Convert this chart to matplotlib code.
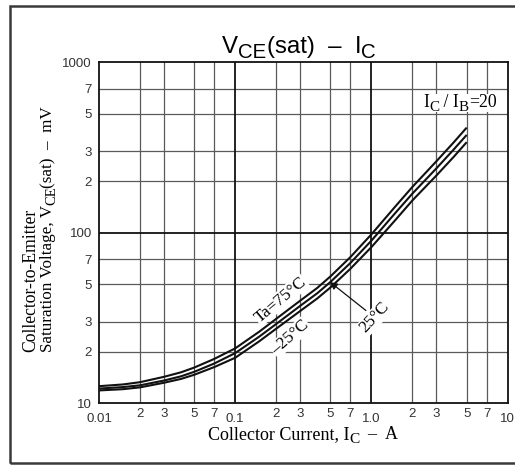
import numpy as np
import matplotlib
matplotlib.use('Agg')
import matplotlib.pyplot as plt
from matplotlib.patches import Rectangle
from matplotlib.ticker import FixedLocator
from matplotlib.transforms import IdentityTransform

# Data (Ic in A, VCE(sat) in mV)
ic = [0.01, 0.015, 0.02, 0.03, 0.04, 0.05, 0.07, 0.1, 0.15, 0.2, 0.3, 0.4, 0.5, 0.7,
      1.0, 1.5, 2.0, 3.0, 4.0, 5.0]
v_75 = [12.6, 12.9, 13.3, 14.3, 15.2, 16.2, 18.2, 21.0, 26.3, 31.3, 40.0, 47.5, 55.5, 72.0,
        98, 143, 186, 263, 338, 414]
v_25 = [12.2, 12.45, 12.75, 13.6, 14.4, 15.3, 17.1, 19.7, 24.6, 29.2, 37.3, 44.2, 51.5, 66.5,
        90, 131, 170, 239, 307, 375]
v_m25 = [11.9, 12.1, 12.4, 13.2, 13.9, 14.7, 16.3, 18.5, 23.1, 27.4, 34.8, 41.2, 47.8, 61.5,
         82.5, 119, 155, 217, 278, 340]

x_major = [0.01, 0.1, 1.0, 10]
x_major_labels = ['0.01', '0.1', '1.0', '10']
x_minor = [0.02, 0.03, 0.05, 0.07, 0.2, 0.3, 0.5, 0.7, 2, 3, 5, 7]
x_minor_labels = ['2', '3', '5', '7'] * 3
y_major = [10, 100, 1000]
y_major_labels = ['10', '100', '1000']
y_minor = [20, 30, 50, 70, 200, 300, 500, 700]
y_minor_labels = ['2', '3', '5', '7'] * 2

sans = ['Liberation Sans', 'DejaVu Sans']
serif = ['Liberation Serif', 'DejaVu Serif']

W, H = 515, 466
fig = plt.figure(figsize=(W / 100, H / 100), dpi=100)
ax = fig.add_axes([99 / W, 1 - 403.3 / H, 408.7 / W, 341 / H])
renderer = fig.canvas.get_renderer()


def runs(x, y, parts, size, family, rotation=0, ha='center', box=False):
    # write text pieces one after another; x, y in pixels from top-left, y = baseline
    # parts: strings, (string, scale, shift_em) for subscripts, or a float gap in em
    em = size / 72 * fig.dpi
    items = []
    for p in parts:
        if isinstance(p, float):
            items.append((None, p * em, 0))
            continue
        s, scale, shift = (p, 1.0, 0.0) if isinstance(p, str) else p
        t = fig.text(0, 0, s, fontsize=size * scale, family=family, transform=IdentityTransform(),
                     ha='left', va='baseline', zorder=5)
        items.append((t, t.get_window_extent(renderer).width, shift))
    total = sum(w for _, w, _ in items)
    pos = -total / 2 if ha == 'center' else 0
    if box:
        fig.patches.append(Rectangle((x + pos - 2, H - y - 0.3 * em), total + 4, 1.0 * em,
                                     transform=IdentityTransform(), facecolor='white',
                                     edgecolor='none', zorder=4))
    for t, w, shift in items:
        if t is not None:
            if rotation == 0:
                t.set_position((x + pos, H - y + shift * em))
            else:
                t.set_position((x - shift * em, H - y + pos))
                t.set_rotation(90)
                t.set_rotation_mode('anchor')
        pos += w


# outer frame
fig.patches.append(Rectangle((10 / W, 3 / H), 520 / W, 457 / H, transform=fig.transFigure,
                             fill=False, edgecolor='#3a3a3a', linewidth=1.8))

ax.set_xscale('log')
ax.set_yscale('log')
ax.set_xlim(0.01, 10)
ax.set_ylim(10, 1000)

# grid
for x in x_minor:
    ax.axvline(x, color='#5a5a5a', lw=0.9, zorder=1)
for y in y_minor:
    ax.axhline(y, color='#5a5a5a', lw=0.9, zorder=1)
for x in x_major[1:-1]:
    ax.axvline(x, color='#111111', lw=1.3, zorder=1)
for y in y_major[1:-1]:
    ax.axhline(y, color='#111111', lw=1.3, zorder=1)

for s in ax.spines.values():
    s.set_linewidth(1.3)
    s.set_color('#111111')

# curves
for v in (v_75, v_25, v_m25):
    ax.plot(ic, v, color='#111111', lw=1.5, zorder=3, solid_capstyle='butt')

# ticks
ax.xaxis.set_major_locator(FixedLocator(x_major))
ax.xaxis.set_minor_locator(FixedLocator(x_minor))
ax.set_xticklabels(x_major_labels)
ax.set_xticklabels(x_minor_labels, minor=True)
ax.yaxis.set_major_locator(FixedLocator(y_major))
ax.yaxis.set_minor_locator(FixedLocator(y_minor))
ax.set_yticklabels(y_major_labels)
ax.set_yticklabels(y_minor_labels, minor=True)
ax.tick_params(axis='both', which='both', length=0, labelsize=9.5, colors='#333333')
ax.tick_params(axis='x', which='major', pad=7)
ax.tick_params(axis='x', which='minor', pad=3.5)
ax.tick_params(axis='y', which='both', pad=5)
for lab in ax.get_xticklabels(which='both') + ax.get_yticklabels(which='both'):
    lab.set_fontfamily(sans)

# title and axis labels
sub = 0.85
runs(299, 53, ['V', ('CE', sub, -0.22), '(sat)  –  I', ('C', sub, -0.22)], 17.3, sans)
runs(303, 439, ['Collector Current, I', ('C', sub, -0.22), '  –  A'], 13, serif)
runs(35, 352, ['Collector-to-Emitter'], 12.7, serif, rotation=90, ha='left')
runs(52, 352, ['Saturation Voltage, V', ('CE', sub, -0.22), -0.12, '(sat)  –  mV'], 12.3, serif,
     rotation=90, ha='left')

# annotations
runs(460, 106.7, ['I', ('C', sub, -0.22), ' / I', ('B', sub, -0.22), '=20'], 12.8, serif, box=True)

box = dict(facecolor='white', edgecolor='none', pad=0.5)
ax.text(0.215, 40.5, 'Ta=75°C', rotation=40, ha='center', va='center',
        fontsize=12.3, family=serif, bbox=box, zorder=4, rotation_mode='anchor')
ax.text(0.253, 24.4, '–25°C', rotation=41, ha='center', va='center',
        fontsize=12.3, family=serif, bbox=box, zorder=4, rotation_mode='anchor')
ax.annotate('25°C', xy=(0.495, 51.5), xytext=(1.06, 31.8), rotation=47,
            ha='center', va='center', fontsize=12.3, family=serif, bbox=box, zorder=4,
            rotation_mode='anchor',
            arrowprops=dict(arrowstyle='-|>', color='#111111', lw=0.9, mutation_scale=11,
                            shrinkA=2, shrinkB=0))

plt.savefig('out.png', dpi=100)
